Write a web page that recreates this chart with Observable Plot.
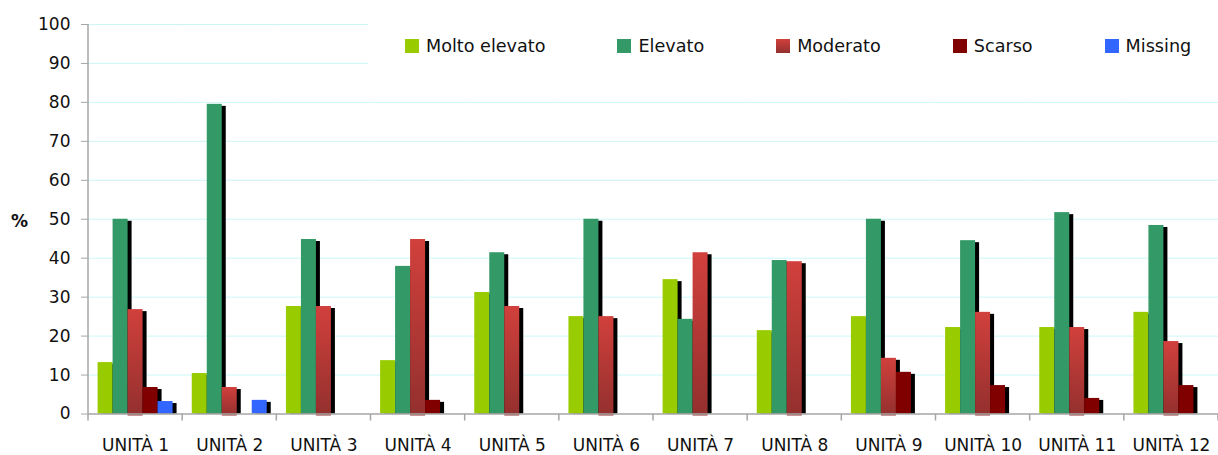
<!DOCTYPE html>
<html><head><meta charset="utf-8">
<script src="https://cdn.jsdelivr.net/npm/d3@7"></script>
<script src="https://cdn.jsdelivr.net/npm/@observablehq/plot@0.6"></script>
<style>
body{margin:0;background:#fff;}
#wrap{position:relative;width:1218px;height:455px;font-family:"DejaVu Sans",sans-serif;}
#legend{position:absolute;left:368px;top:15px;width:850px;height:62px;background:#fff;display:flex;align-items:center;padding-left:37px;box-sizing:border-box;gap:72px;font-size:17.6px;color:#111;}
.item{display:flex;align-items:center;gap:7px;white-space:nowrap;}
.sw{width:14px;height:14px;}
#pct{position:absolute;left:11px;top:211px;font-weight:bold;font-size:17px;color:#111;}
</style></head>
<body>
<svg width="0" height="0" style="position:absolute"><defs><linearGradient id="redGrad" x1="0" y1="0" x2="0" y2="1"><stop offset="0" stop-color="#d1403c"/><stop offset="1" stop-color="#93302e"/></linearGradient></defs></svg>
<div id="wrap"><div id="chart"></div><div id="legend"></div><div id="pct">%</div></div>
<script>
const units = ["UNITÀ 1","UNITÀ 2","UNITÀ 3","UNITÀ 4","UNITÀ 5","UNITÀ 6","UNITÀ 7","UNITÀ 8","UNITÀ 9","UNITÀ 10","UNITÀ 11","UNITÀ 12"];
const seriesNames = ["Molto elevato","Elevato","Moderato","Scarso","Missing"];
const moltoElevato = [13.2,10.4,27.6,13.7,31.2,25.0,34.5,21.4,25.0,22.2,22.2,26.1];
const elevato      = [50.0,79.5,44.8,37.9,41.4,50.0,24.3,39.4,50.0,44.5,51.7,48.4];
const moderato     = [26.8,6.8,27.6,44.8,27.6,25.0,41.4,39.1,14.3,26.1,22.2,18.6];
const scarso       = [6.8,0,0,3.5,0,0,0,0,10.7,7.3,4.0,7.3];
const missing      = [3.2,3.5,0,0,0,0,0,0,0,0,0,0];
const yTicks = [0,10,20,30,40,50,60,70,80,90,100];
const colors = ["#99cc00","#339966","url(#redGrad)","#800000","#3366ff"];
const swatchCss = ["#99cc00","#339966","linear-gradient(#d1403c,#93302e)","#800000","#3366ff"];

const seriesValues = [moltoElevato, elevato, moderato, scarso, missing];
const data = [];
seriesNames.forEach((s, si) => units.forEach((u, ui) => data.push({unit: u, series: s, value: seriesValues[si][ui]})));

const marks = [Plot.gridY(yTicks.slice(1), {stroke: "#cdf7f7", strokeOpacity: 1})];
seriesNames.forEach((s, si) => {
  const d = data.filter(r => r.series === s && r.value > 0);
  marks.push(Plot.rectY(d, {fx: "unit", x: "series", y: "value", fill: "black", dx: 4, dy: 2, insetBottom: 2}));
  marks.push(Plot.rectY(d, {fx: "unit", x: "series", y: "value", fill: colors[si], insetBottom: s === "Moderato" ? -2 : 0}));
});
marks.push(Plot.ruleY([0], {stroke: "#a6a6a6", strokeWidth: 1.5}));
marks.push(Plot.axisY(yTicks, {tickSize: 7, tickPadding: 11, stroke: "#a6a6a6", fill: "#111", label: null}));
marks.push(Plot.axisFx({anchor: "bottom", tickSize: 0, tickPadding: 25, fill: "#111", label: null}));

const chart = Plot.plot({
  width: 1218, height: 455,
  marginLeft: 88, marginRight: 0, marginTop: 24, marginBottom: 41.5,
  style: {fontFamily: "DejaVu Sans, sans-serif", fontSize: "17px", background: "#fff", color: "#111"},
  fx: {domain: units, padding: 0, round: false, label: null},
  x: {domain: seriesNames, paddingInner: 0, paddingOuter: 0.64, round: false, axis: null},
  y: {domain: [0, 100], axis: null},
  marks
});
document.getElementById("chart").appendChild(chart);

// axis line and group-boundary ticks drawn from the Plot scales
const fxs = chart.scale("fx"), ys = chart.scale("y");
const svg = d3.select(chart);
const y0 = ys.apply(0), y100 = ys.apply(100);
const g = svg.append("g").attr("stroke", "#a6a6a6").attr("stroke-width", 1.5);
g.append("line").attr("x1", fxs.apply(units[0])).attr("x2", fxs.apply(units[0])).attr("y1", y100).attr("y2", y0);
const bounds = units.map(u => fxs.apply(u)).concat([fxs.apply(units[units.length - 1]) + fxs.bandwidth]);
bounds.forEach(x => g.append("line").attr("x1", x).attr("x2", x).attr("y1", y0).attr("y2", y0 + 7));

// legend
const leg = document.getElementById("legend");
seriesNames.forEach((s, i) => {
  const it = document.createElement("div"); it.className = "item";
  const sw = document.createElement("div"); sw.className = "sw"; sw.style.background = swatchCss[i];
  const t = document.createElement("span"); t.textContent = s;
  it.appendChild(sw); it.appendChild(t); leg.appendChild(it);
});
</script>
</body></html>
